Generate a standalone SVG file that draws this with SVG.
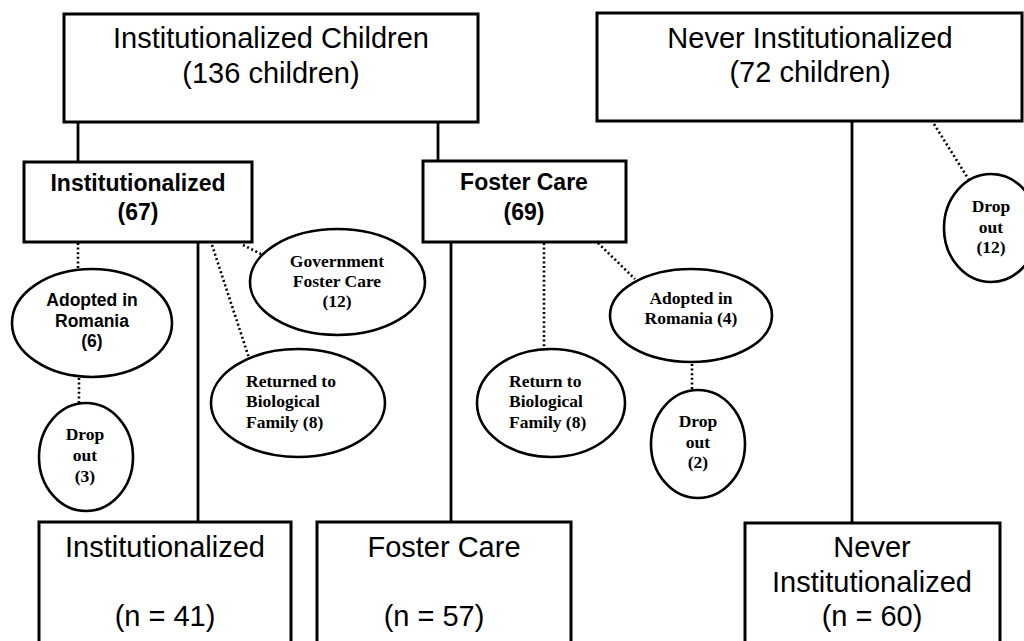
<svg xmlns="http://www.w3.org/2000/svg" width="1024" height="641" viewBox="0 0 1024 641">
<style>
.box{fill:#fff;stroke:#000;stroke-width:3}
.ell{fill:#fff;stroke:#000;stroke-width:2.6}
.solid{stroke:#000;stroke-width:2.8;fill:none}
.dot{stroke:#000;stroke-width:2.6;fill:none;stroke-dasharray:2 2.6}
.big{font-family:"Liberation Sans",Arial,sans-serif;font-size:29px;fill:#000;text-anchor:middle}
.mid{font-family:"Liberation Sans",Arial,sans-serif;font-size:23px;font-weight:bold;fill:#000;text-anchor:middle}
.sb{font-family:"Liberation Sans",Arial,sans-serif;font-size:17.5px;font-weight:bold;fill:#000;text-anchor:middle}
.tb{font-family:"Liberation Serif","Times New Roman",serif;font-size:17.5px;font-weight:bold;fill:#000;text-anchor:middle}
.tbl{font-family:"Liberation Serif","Times New Roman",serif;font-size:17.5px;font-weight:bold;fill:#000}
</style>
<rect width="1024" height="641" fill="#fff"/>
<g id="connectors">
<line class="solid" x1="78" y1="122" x2="78" y2="162"/>
<line class="solid" x1="438" y1="122" x2="438" y2="161"/>
<line class="solid" x1="198" y1="242" x2="198" y2="522"/>
<line class="solid" x1="451" y1="242" x2="451" y2="522"/>
<line class="solid" x1="852" y1="121" x2="852" y2="523"/>
<line class="dot" x1="78" y1="243" x2="78" y2="269"/>
<line class="dot" x1="79" y1="378" x2="79" y2="403"/>
<line class="dot" x1="212" y1="245" x2="249" y2="358"/>
<line class="dot" x1="243" y1="245" x2="261" y2="254"/>
<line class="dot" x1="544" y1="243" x2="544" y2="349"/>
<line class="dot" x1="598" y1="243" x2="635" y2="279"/>
<line class="dot" x1="692" y1="364" x2="692" y2="390"/>
<line class="dot" x1="934" y1="124" x2="969" y2="180"/>
</g>
<g id="inst-children">
<rect class="box" x="64" y="14" width="414" height="108"/>
<text class="big" x="271" y="48">Institutionalized Children</text>
<text class="big" x="271" y="83">(136 children)</text>
</g>
<g id="never-inst">
<rect class="box" x="597" y="13" width="425" height="108"/>
<text class="big" x="810" y="48">Never Institutionalized</text>
<text class="big" x="810" y="82">(72 children)</text>
</g>
<g id="inst-67">
<rect class="box" x="24" y="162" width="228" height="80"/>
<text class="mid" x="138" y="191">Institutionalized</text>
<text class="mid" x="138" y="220">(67)</text>
</g>
<g id="foster-69">
<rect class="box" x="423" y="161" width="203" height="81"/>
<text class="mid" x="524" y="190">Foster Care</text>
<text class="mid" x="524" y="220">(69)</text>
</g>
<g id="adopted-6">
<ellipse class="ell" cx="92" cy="323" rx="80" ry="54"/>
<text class="sb" x="92" y="306">Adopted in</text>
<text class="sb" x="92" y="327">Romania</text>
<text class="sb" x="92" y="347">(6)</text>
</g>
<g id="dropout-3">
<ellipse class="ell" cx="86" cy="457" rx="47" ry="54"/>
<text class="tb" x="85" y="440">Drop</text>
<text class="tb" x="85" y="461">out</text>
<text class="tb" x="85" y="482">(3)</text>
</g>
<g id="gov-foster">
<ellipse class="ell" cx="337.5" cy="282" rx="87.5" ry="53"/>
<text class="tb" x="337" y="267">Government</text>
<text class="tb" x="337" y="287">Foster Care</text>
<text class="tb" x="337" y="307">(12)</text>
</g>
<g id="returned-8">
<ellipse class="ell" cx="298" cy="403" rx="87" ry="54"/>
<text class="tbl" x="246" y="387">Returned to</text>
<text class="tbl" x="246" y="407">Biological</text>
<text class="tbl" x="246" y="428">Family (8)</text>
</g>
<g id="return-8">
<ellipse class="ell" cx="551" cy="403" rx="74" ry="54"/>
<text class="tbl" x="509" y="387">Return to</text>
<text class="tbl" x="509" y="407">Biological</text>
<text class="tbl" x="509" y="428">Family (8)</text>
</g>
<g id="adopted-4">
<ellipse class="ell" cx="691" cy="315.5" rx="81" ry="46.5"/>
<text class="tb" x="691" y="304">Adopted in</text>
<text class="tb" x="691" y="324">Romania (4)</text>
</g>
<g id="dropout-2">
<ellipse class="ell" cx="698" cy="444" rx="47" ry="54"/>
<text class="tb" x="698" y="427">Drop</text>
<text class="tb" x="698" y="448">out</text>
<text class="tb" x="698" y="468">(2)</text>
</g>
<g id="dropout-12">
<ellipse class="ell" cx="991" cy="228" rx="47" ry="54"/>
<text class="tb" x="991" y="212">Drop</text>
<text class="tb" x="991" y="233">out</text>
<text class="tb" x="991" y="253">(12)</text>
</g>
<g id="final-inst">
<rect class="box" x="39" y="522" width="252" height="140"/>
<text class="big" x="165" y="557">Institutionalized</text>
<text class="big" x="165" y="626">(n = 41)</text>
</g>
<g id="final-foster">
<rect class="box" x="317" y="522" width="254" height="140"/>
<text class="big" x="444" y="557">Foster Care</text>
<text class="big" x="434" y="626">(n = 57)</text>
</g>
<g id="final-never">
<rect class="box" x="745" y="523" width="255" height="140"/>
<text class="big" x="872" y="557">Never</text>
<text class="big" x="872" y="592">Institutionalized</text>
<text class="big" x="872" y="626">(n = 60)</text>
</g>
</svg>
